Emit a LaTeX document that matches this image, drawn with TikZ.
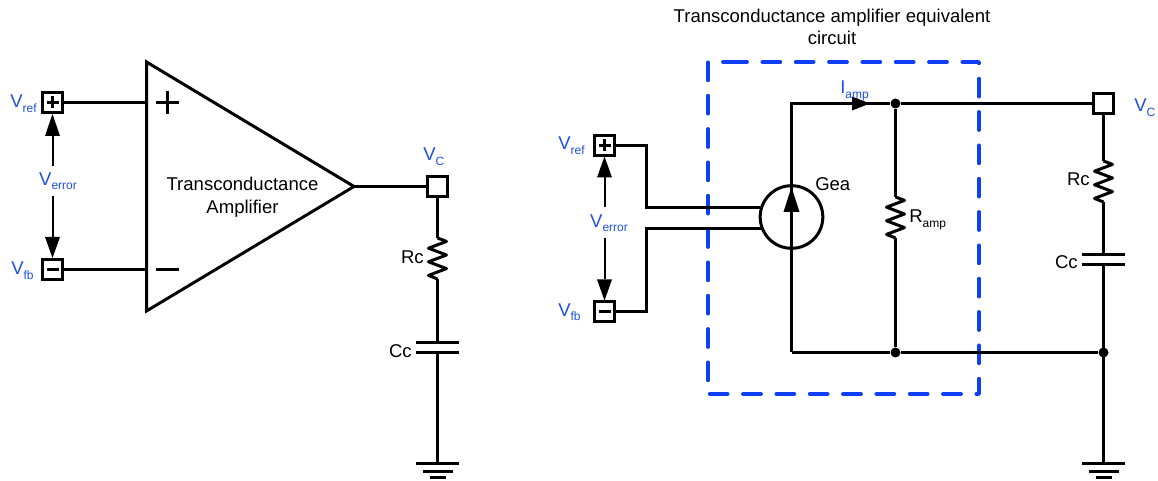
\documentclass[tikz,border=0pt]{standalone}
\usepackage{fontspec}
\setmainfont{Liberation Sans}
\usetikzlibrary{calc}
\definecolor{lblblue}{HTML}{1F4FE0}
\definecolor{dashblue}{HTML}{0F3FF5}
\newcommand{\subl}[2]{#1\raisebox{-0.22em}{\fontsize{9}{10}\selectfont #2}}
\tikzset{
  x=0.75pt,y=-0.75pt,
  wire/.style={line width=2.25pt,line cap=butt,line join=miter},
  thin wire/.style={line width=1.5pt},
  termbox/.style={draw,fill=white,line width=2.25pt,minimum size=15pt,inner sep=0pt},
  lbl/.style={inner sep=0pt,font=\fontsize{13.9}{16}\selectfont},
  bluelbl/.style={lbl,text=lblblue},
  jdot/.style={circle,fill=black,inner sep=0pt,minimum size=7.5pt},
  tipfill/.style={fill=black,draw=none},
  dashbox/.style={draw=dashblue,line width=2.8pt,dash pattern=on 13.5pt off 11.5pt,line cap=round,line join=round}
}
\newcommand{\zig}[3]{% x, ytop, ybottom
  \draw[wire,line join=round] (#1,#2)
    -- ++(9,3.4) -- ++(-18,6.8) -- ++(18,6.8) -- ++(-18,6.8) -- ++(18,6.8) -- ++(-18,6.8) -- (#1,#3);}
\newcommand{\uptip}[3]{\fill[tipfill] (#1,#2) -- ++(-7.5,#3) -- ++(15,0) -- cycle;}
\newcommand{\gnd}[2]{%
  \draw[wire] (#1-21.5,#2) -- (#1+21.5,#2);
  \draw[wire] (#1-15,#2+8) -- (#1+15,#2+8);
  \draw[wire] (#1-8,#2+14) -- (#1+8,#2+14);}
\newcommand{\cpl}[3]{%
  \draw[wire] (#1-21.5,#2) -- (#1+21.5,#2);
  \draw[wire] (#1-21.5,#3) -- (#1+21.5,#3);}
\begin{document}
\begin{tikzpicture}
\useasboundingbox (0,0) rectangle (1158,481);
% ---------- left circuit ----------
\coordinate (ta) at (146.5,62);
\coordinate (tb) at (146.5,311);
\coordinate (tip) at (354,186.5);
\coordinate (ainp) at (146.5,102.5);
\coordinate (ainm) at (146.5,269.5);
\node[termbox] (lref) at (52.5,102.5) {};
\node[termbox] (lfb) at (52.5,269.5) {};
\node[termbox] (lvc) at (437.5,186.5) {};
\draw[wire] (lref) -- (ainp);
\draw[wire] (lfb) -- (ainm);
\draw[wire,fill=white] (ta) -- (tip) -- (tb) -- cycle;
\draw[wire] (tip) -- (lvc);
\draw[wire] (156,102.5) -- (179,102.5) (167.5,91) -- (167.5,114);
\draw[wire] (156,269.5) -- (179,269.5);
\draw[wire] (46.5,102.5) -- (58.5,102.5) (52.5,96.5) -- (52.5,108.5);
\draw[wire] (46.5,269.5) -- (58.5,269.5);
\node[lbl,align=center] (ltxt) at (242.5,197.5) {Transconductance\\[1pt]Amplifier};
\node[bluelbl,anchor=base west] (lv1) at (10,108) {\subl{V}{ref}};
\node[bluelbl,anchor=base west] (lv2) at (11,275) {\subl{V}{fb}};
\node[bluelbl] (lerr) at (58,181) {\subl{V}{error}};
\node[bluelbl,anchor=base west] (lvctxt) at (423,161) {\subl{V}{C}};
\draw[thin wire] (52.5,136) -- (52.5,166);
\draw[thin wire] (52.5,196) -- (52.5,237);
\uptip{52.5}{114}{22}
\uptip{52.5}{258}{-21}
\coordinate (lr1) at (437.5,238);
\coordinate (lr2) at (437.5,279);
\coordinate (lc1) at (437.5,342.5);
\coordinate (lc2) at (437.5,352.5);
\coordinate (lg) at (437.5,463.5);
\draw[wire] (lvc) -- (lr1);
\zig{437.5}{238}{279}
\draw[wire] (lr2) -- (lc1);
\draw[wire] (lc2) -- (lg);
\cpl{437.5}{342.5}{352.5}
\gnd{437.5}{463.5}
\node[lbl,anchor=base east] (lrc) at (424,264) {Rc};
\node[lbl,anchor=base east] (lcc) at (412,358) {Cc};
% ---------- right circuit ----------
\node[termbox] (rref) at (604.5,145.5) {};
\node[termbox] (rfb) at (604.5,311.5) {};
\node[termbox] (rvc) at (1103.5,103.5) {};
\coordinate (a1) at (646.5,145.5);
\coordinate (a2) at (646.5,207.5);
\coordinate (a3) at (762,207.5);
\coordinate (b1) at (646.5,311.5);
\coordinate (b2) at (646.5,228.5);
\coordinate (b3) at (762,228.5);
\coordinate (gtop) at (791.5,103.5);
\coordinate (gbot) at (791.5,352.5);
\node[jdot] (j1) at (895.5,103.5) {};
\node[jdot] (j2) at (895.5,352.5) {};
\node[jdot] (j3) at (1103.5,352.5) {};
\coordinate (rr1) at (895.5,197);
\coordinate (rr2) at (895.5,238);
\coordinate (cr1) at (1103.5,161);
\coordinate (cr2) at (1103.5,202);
\coordinate (cc1) at (1103.5,254.5);
\coordinate (cc2) at (1103.5,264.5);
\coordinate (rg) at (1103.5,463.5);
\draw[dashbox] (729,62) -- (979,62) -- (979,394) -- (708,394) -- (708,62) -- cycle;
\draw[wire] (rref) -- (a1) -- (a2) -- (a3);
\draw[wire] (rfb) -- (b1) -- (b2) -- (b3);
\draw[wire] (gbot) -- (gtop) -- (j1) -- (rvc);
\draw[wire] (gbot) -- (j2) -- (j3);
\draw[wire] (j1) -- (rr1);
\zig{895.5}{197}{238}
\draw[wire] (rr2) -- (j2);
\draw[wire] (rvc) -- (cr1);
\zig{1103.5}{161}{202}
\draw[wire] (cr2) -- (cc1);
\cpl{1103.5}{254.5}{264.5}
\draw[wire] (cc2) -- (rg);
\gnd{1103.5}{463.5}
\node[draw,line width=2.25pt,circle,minimum size=47pt,inner sep=0pt] (gea) at (791.5,217) {};
\fill[tipfill] (791.5,187) -- ++(-8,25) -- ++(16,0) -- cycle;
\fill[tipfill] (870,103.5) -- ++(-18,-7) -- ++(0,14) -- cycle;
\draw[wire] (598.5,145.5) -- (610.5,145.5) (604.5,139.5) -- (604.5,151.5);
\draw[wire] (598.5,311.5) -- (610.5,311.5);
\draw[thin wire] (604.5,177) -- (604.5,207);
\draw[thin wire] (604.5,238) -- (604.5,279);
\uptip{604.5}{156.5}{21}
\uptip{604.5}{300.5}{-21}
\node[bluelbl,anchor=base west] (rv1) at (558,150) {\subl{V}{ref}};
\node[bluelbl,anchor=base west] (rv2) at (558,316) {\subl{V}{fb}};
\node[bluelbl] (rerr) at (609,223) {\subl{V}{error}};
\node[bluelbl,anchor=base west] (rvctxt) at (1134,112) {\subl{V}{C}};
\node[bluelbl,anchor=base west] (iamp) at (840,94) {\subl{I}{amp}};
\node[lbl,anchor=base west] (geat) at (815,191) {Gea};
\node[lbl,anchor=base west] (ramp) at (909,223) {\subl{R}{amp}};
\node[lbl,anchor=base east] (rrc) at (1090,186) {Rc};
\node[lbl,anchor=base east] (rcc) at (1078,269) {Cc};
\node[lbl,align=center] (title) at (832,27) {Transconductance amplifier equivalent\\[1pt]circuit};
\end{tikzpicture}
\end{document}
